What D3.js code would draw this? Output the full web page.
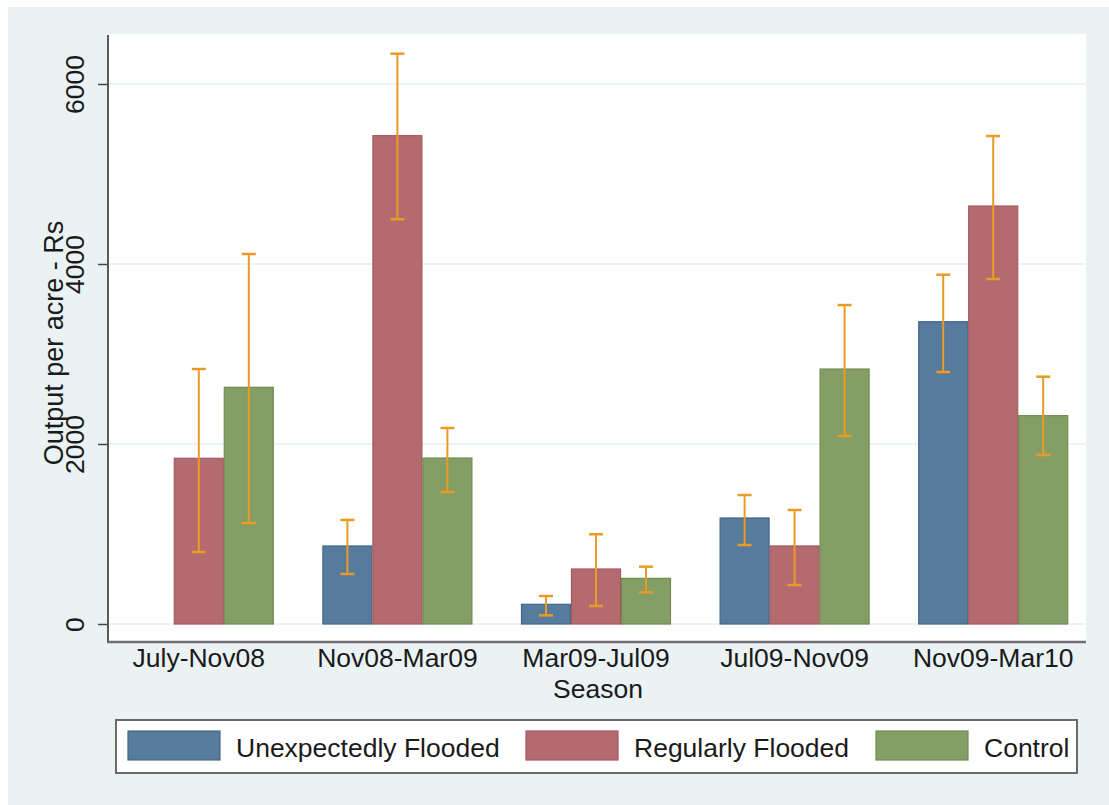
<!DOCTYPE html>
<html>
<head>
<meta charset="utf-8">
<script src="https://cdn.jsdelivr.net/npm/d3@7"></script>
<style>
  html, body { margin: 0; padding: 0; background: #ffffff; }
  svg { display: block; }
  text { font-family: "Liberation Sans", Arial, Helvetica, sans-serif; fill: #1a1a1a; }
</style>
</head>
<body>
<svg id="chart" width="1109" height="805"></svg>
<script>
const categories = ["July-Nov08", "Nov08-Mar09", "Mar09-Jul09", "Jul09-Nov09", "Nov09-Mar10"];
const seriesNames = ["Unexpectedly Flooded", "Regularly Flooded", "Control"];
const unexpectedMean = [null, 867, 219, 1178, 3359];
const unexpectedLow  = [null, 556, 96, 878, 2800];
const unexpectedHigh = [null, 1156, 311, 1433, 3881];
const regularMean = [1841, 5426, 611, 867, 4644];
const regularLow  = [800, 4497, 200, 433, 3833];
const regularHigh = [2833, 6337, 997, 1267, 5422];
const controlMean = [2630, 1844, 507, 2833, 2315];
const controlLow  = [1122, 1467, 352, 2089, 1878];
const controlHigh = [4111, 2178, 637, 3544, 2748];
const yTicks = [0, 2000, 4000, 6000];
const xTitle = "Season";
const yTitle = "Output per acre - Rs";

const fills   = ["#577b9d", "#b46b6f", "#849e65"];
const strokes = ["#43678c", "#a3585f", "#6f8b4f"];
const errColor = "#ec9a26";
const FS = 26.5;

const series = [
  {name: seriesNames[0], mean: unexpectedMean, low: unexpectedLow, high: unexpectedHigh},
  {name: seriesNames[1], mean: regularMean, low: regularLow, high: regularHigh},
  {name: seriesNames[2], mean: controlMean, low: controlLow, high: controlHigh}
];

const svg = d3.select("#chart");
const W = 1109, H = 805;

// outer background
svg.append("rect").attr("x", 0).attr("y", 0).attr("width", W).attr("height", H).attr("fill", "#ffffff");
svg.append("rect").attr("x", 8).attr("y", 7).attr("width", W - 8).attr("height", H - 7).attr("fill", "#eaf2f3");

const plot = {left: 109, right: 1086, top: 34, bottom: 641};

// plot region
svg.append("rect").attr("x", plot.left).attr("y", plot.top)
  .attr("width", plot.right - plot.left).attr("height", plot.bottom - plot.top).attr("fill", "#ffffff");

const y = d3.scaleLinear().domain([0, 6000]).range([624, 84]);
const x0 = d3.scaleBand().domain(categories).range([99.5, 1092.5]).padding(0);
const barW = 50;
const x1 = d3.scaleBand().domain(seriesNames).range([0, barW * 3]);

// gridlines
svg.append("g").selectAll("line").data(yTicks).join("line")
  .attr("x1", plot.left).attr("x2", plot.right)
  .attr("y1", d => y(d)).attr("y2", d => y(d))
  .attr("stroke", "#e6eff0").attr("stroke-width", 1.5);

// bars
const groups = svg.append("g").selectAll("g").data(categories).join("g")
  .attr("transform", c => `translate(${x0(c) + x0.bandwidth() / 2 - barW * 1.5},0)`);

series.forEach((s, si) => {
  groups.each(function(c, ci) {
    const v = s.mean[ci];
    if (v == null) return;
    d3.select(this).append("rect")
      .attr("x", x1(s.name) + 0.5)
      .attr("y", y(v))
      .attr("width", x1.bandwidth() - 1)
      .attr("height", y(0) - y(v))
      .attr("fill", fills[si])
      .attr("stroke", strokes[si])
      .attr("stroke-width", 1.2);
  });
});

// error bars
series.forEach((s, si) => {
  groups.each(function(c, ci) {
    if (s.mean[ci] == null) return;
    const g = d3.select(this);
    const cx = x1(s.name) + x1.bandwidth() / 2;
    g.append("line").attr("x1", cx).attr("x2", cx)
      .attr("y1", y(s.low[ci])).attr("y2", y(s.high[ci]))
      .attr("stroke", errColor).attr("stroke-width", 2);
    [s.low[ci], s.high[ci]].forEach(v => {
      g.append("line").attr("x1", cx - 7).attr("x2", cx + 7)
        .attr("y1", y(v)).attr("y2", y(v))
        .attr("stroke", errColor).attr("stroke-width", 2.5);
    });
  });
});

// y axis
const yAxis = d3.axisLeft(y).tickValues(yTicks).tickSize(10).tickSizeOuter(0).tickFormat(d3.format("d"));
const gy = svg.append("g").attr("transform", `translate(${plot.left - 1},0)`).call(yAxis);
gy.select(".domain").remove();
gy.append("line").attr("x1", 0).attr("x2", 0).attr("y1", plot.top + 1).attr("y2", plot.bottom + 1)
  .attr("stroke", "#5a5a5a").attr("stroke-width", 2);
gy.selectAll(".tick line").attr("stroke", "#444").attr("stroke-width", 1.5);
gy.selectAll(".tick text")
  .attr("font-size", FS)
  .attr("font-family", "'Liberation Sans', Arial, sans-serif")
  .attr("fill", "#1a1a1a")
  .attr("text-anchor", "middle")
  .attr("x", 0).attr("dy", 0)
  .attr("transform", "translate(-24.5,0) rotate(-90)");

// x axis
const xAxis = d3.axisBottom(x0).tickSize(0).tickSizeOuter(0);
const gx = svg.append("g").attr("transform", `translate(0,${plot.bottom + 1})`).call(xAxis);
gx.select(".domain").remove();
gx.append("line").attr("x1", plot.left - 2).attr("x2", plot.right)
  .attr("y1", 0).attr("y2", 0).attr("stroke", "#6f6f6f").attr("stroke-width", 2.5);
gx.selectAll(".tick text")
  .attr("font-size", FS)
  .attr("font-family", "'Liberation Sans', Arial, sans-serif")
  .attr("fill", "#1a1a1a")
  .attr("y", 25).attr("dy", 0);

// axis titles
svg.append("text").attr("x", (plot.left + plot.right) / 2 + 0.5).attr("y", 698)
  .attr("text-anchor", "middle").attr("font-size", FS).text(xTitle);
svg.append("text").attr("transform", `translate(63,343) rotate(-90)`)
  .attr("text-anchor", "middle").attr("font-size", 27).text(yTitle);

// legend
const lg = svg.append("g");
lg.append("rect").attr("x", 116).attr("y", 720).attr("width", 961).attr("height", 53)
  .attr("fill", "#ffffff").attr("stroke", "#6a6a6a").attr("stroke-width", 2);
const legendX = [128, 526, 876];
seriesNames.forEach((n, i) => {
  lg.append("rect").attr("x", legendX[i]).attr("y", 731).attr("width", 92).attr("height", 29)
    .attr("fill", fills[i]).attr("stroke", strokes[i]).attr("stroke-width", 1.2);
  lg.append("text").attr("x", legendX[i] + 108).attr("y", 757)
    .attr("font-size", FS).text(n);
});
</script>
</body>
</html>
